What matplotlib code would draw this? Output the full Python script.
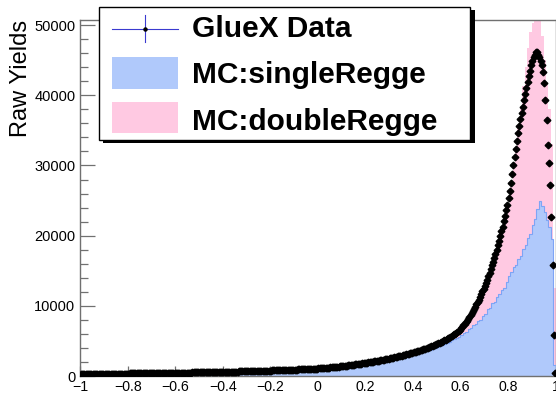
import numpy as np
import matplotlib
matplotlib.use("Agg")
import matplotlib.pyplot as plt
from matplotlib.patches import Rectangle
from matplotlib.lines import Line2D
from matplotlib.ticker import MultipleLocator

plt.rcParams['font.family'] = ['Liberation Sans', 'DejaVu Sans']

x_lo, x_hi = -1.0, 1.0

# ---- GlueX data: 400 bins of width 0.005 ----
gluex_data = [
    248, 250, 253, 255, 258, 261, 263, 265, 268, 270, 272, 275, 278, 280, 283, 286, 290, 292, 295, 298,
    302, 305, 308, 310, 313, 316, 318, 320, 323, 326, 329, 332, 334, 337, 340, 342, 345, 348, 350, 352,
    355, 358, 361, 363, 366, 368, 371, 373, 376, 378, 381, 384, 386, 389, 392, 394, 396, 399, 401, 404,
    407, 410, 412, 415, 418, 420, 422, 425, 428, 430, 433, 436, 438, 440, 443, 445, 448, 450, 452, 455,
    458, 460, 463, 466, 469, 472, 475, 478, 481, 484, 487, 490, 493, 497, 500, 503, 506, 510, 513, 516,
    519, 522, 526, 529, 532, 536, 539, 543, 546, 550, 553, 557, 561, 565, 568, 572, 576, 580, 584, 588,
    592, 596, 600, 604, 608, 612, 616, 620, 624, 628, 632, 636, 640, 645, 650, 654, 658, 663, 668, 672,
    676, 681, 686, 690, 695, 700, 705, 710, 715, 720, 725, 730, 735, 740, 745, 750, 755, 760, 766, 772,
    778, 784, 790, 796, 802, 808, 814, 820, 826, 833, 840, 846, 852, 859, 866, 872, 879, 886, 893, 900,
    907, 915, 922, 930, 938, 945, 952, 960, 968, 976, 984, 992, 1000, 1008, 1016, 1025, 1034, 1042, 1051, 1060,
    1070, 1080, 1095, 1110, 1125, 1140, 1155, 1170, 1185, 1200, 1218, 1235, 1252, 1270, 1288, 1305, 1322, 1340, 1360, 1380,
    1400, 1420, 1440, 1460, 1480, 1500, 1522, 1545, 1568, 1590, 1615, 1640, 1665, 1690, 1715, 1740, 1765, 1790, 1818, 1845,
    1872, 1900, 1928, 1955, 1985, 2015, 2045, 2075, 2108, 2140, 2172, 2205, 2238, 2270, 2305, 2340, 2375, 2410, 2445, 2480,
    2515, 2550, 2585, 2620, 2660, 2700, 2740, 2780, 2820, 2860, 2902, 2945, 2988, 3030, 3075, 3120, 3165, 3210, 3255, 3300,
    3350, 3400, 3450, 3500, 3555, 3610, 3665, 3720, 3780, 3840, 3900, 3960, 4025, 4090, 4155, 4220, 4290, 4360, 4430, 4500,
    4575, 4650, 4730, 4810, 4895, 4980, 5070, 5160, 5255, 5350, 5455, 5560, 5675, 5790, 5915, 6040, 6175, 6310, 6455, 6600,
    6820, 7050, 7250, 7450, 7670, 7900, 8150, 8400, 8670, 8950, 9250, 9550, 9870, 10200, 10550, 10900, 11270, 11650, 12050, 12450,
    12870, 13300, 13750, 14200, 14700, 15200, 15750, 16300, 16850, 17400, 18000, 18600, 19250, 19900, 20600, 21300, 22050, 22800, 23600, 24400,
    25300, 26300, 27500, 28800, 30000, 31200, 32400, 33500, 34600, 35600, 36600, 37500, 38400, 39300, 40200, 41000, 41900, 42700, 43500, 44300,
    44900, 45400, 45800, 46100, 46100, 45800, 45400, 44900, 44300, 43300, 41700, 39300, 36500, 32900, 30300, 27200, 22600, 15800, 5800, 400,
]

# ---- MC histograms: 200 bins of width 0.01 ----
single_regge = [
    230, 236, 240, 246, 250, 256, 260, 266, 272, 276,
    280, 286, 290, 295, 300, 305, 310, 315, 320, 324,
    330, 334, 338, 343, 348, 353, 358, 362, 367, 372,
    377, 382, 386, 391, 396, 401, 405, 409, 414, 419,
    423, 429, 434, 440, 445, 451, 457, 463, 469, 475,
    480, 487, 493, 500, 506, 512, 520, 526, 534, 541,
    548, 556, 563, 570, 578, 585, 593, 602, 610, 618,
    627, 635, 644, 653, 662, 672, 681, 690, 699, 710,
    721, 732, 743, 754, 766, 778, 790, 802, 815, 828,
    842, 856, 869, 883, 898, 913, 927, 943, 959, 975,
    994, 1020, 1049, 1076, 1104, 1136, 1168, 1201, 1233, 1270,
    1306, 1343, 1380, 1421, 1463, 1509, 1555, 1601, 1647, 1697,
    1748, 1799, 1854, 1909, 1969, 2029, 2088, 2153, 2217, 2282,
    2346, 2410, 2484, 2558, 2631, 2709, 2788, 2870, 2953, 3036,
    3110, 3190, 3280, 3370, 3450, 3540, 3640, 3730, 3840, 3940,
    4100, 4250, 4400, 4560, 4720, 4900, 5080, 5250, 5420, 5600,
    5800, 6100, 6250, 6650, 6850, 7200, 7400, 7850, 8050, 8550,
    8900, 9500, 9650, 10350, 10550, 11300, 11650, 12200, 12500, 13400,
    14300, 14800, 15600, 15800, 16700, 17100, 18100, 18600, 19700, 20300,
    21500, 22400, 23800, 25000, 24200, 23300, 22300, 21200, 19500, 1500,
]

double_regge = [
    255, 258, 265, 270, 276, 280, 286, 292, 298, 303,
    308, 313, 318, 323, 329, 334, 340, 345, 350, 355,
    360, 366, 371, 376, 381, 386, 392, 397, 402, 407,
    412, 418, 423, 428, 433, 438, 443, 448, 453, 458,
    463, 469, 475, 481, 487, 493, 500, 506, 513, 519,
    525, 532, 539, 546, 553, 560, 568, 575, 583, 591,
    599, 607, 615, 623, 631, 640, 649, 658, 667, 676,
    685, 694, 704, 714, 724, 734, 744, 755, 765, 777,
    789, 801, 813, 825, 838, 851, 864, 878, 892, 906,
    921, 936, 951, 967, 983, 999, 1016, 1033, 1050, 1068,
    1088, 1118, 1148, 1178, 1210, 1245, 1280, 1315, 1352, 1392,
    1432, 1472, 1513, 1558, 1604, 1654, 1705, 1755, 1806, 1862,
    1918, 1973, 2034, 2095, 2160, 2226, 2292, 2363, 2434, 2505,
    2576, 2647, 2728, 2810, 2891, 2977, 3063, 3155, 3246, 3338,
    3440, 3542, 3654, 3766, 3888, 4010, 4140, 4270, 4410, 4550,
    4700, 4880, 5080, 5280, 5500, 5750, 6020, 6320, 6640, 6950,
    7200, 7500, 7850, 8250, 8700, 9200, 9750, 10300, 10900, 11600,
    12400, 13200, 14100, 15000, 16000, 17100, 18300, 19600, 21000, 22500,
    24500, 27000, 29500, 32300, 35300, 38300, 41300, 44000, 46700, 49000,
    50300, 51500, 51500, 50900, 48500, 45000, 41500, 38000, 33000, 12500,
]

legend_labels = ["GlueX Data", "MC:singleRegge", "MC:doubleRegge"]
y_title = "Raw Yields"

# ---- figure ----
W, H = 556, 393
fig = plt.figure(figsize=(W / 100, H / 100), dpi=100)
fig.patch.set_facecolor('white')

ax_l, ax_r, ax_t, ax_b = 80.2, 555.5, 19.5, 376.0
ax = fig.add_axes([ax_l / W, 1 - ax_b / H, (ax_r - ax_l) / W, (ax_b - ax_t) / H])

mc_edges = np.linspace(x_lo, x_hi, len(single_regge) + 1)
d_edges = np.linspace(x_lo, x_hi, len(gluex_data) + 1)
d_centers = 0.5 * (d_edges[:-1] + d_edges[1:])

pink = '#ffc9e2'
blue = '#b0c9fb'
blue_edge = '#7ea4f5'

ax.stairs(double_regge, mc_edges, fill=True, color=pink, zorder=1)
ax.stairs(single_regge, mc_edges, fill=True, color=blue, zorder=2)
ax.stairs(single_regge, mc_edges, fill=False, color=blue_edge, lw=0.8, zorder=3)
ax.plot(d_centers, gluex_data, linestyle='none', marker='D', ms=3.4,
        color='black', zorder=4)

ax.set_xlim(x_lo, x_hi)
ax.set_ylim(0, 50800)

frame_col = '#707070'
for s in ax.spines.values():
    s.set_color(frame_col)
    s.set_linewidth(1.0)

ax.xaxis.set_major_locator(MultipleLocator(0.2))
ax.xaxis.set_minor_locator(MultipleLocator(0.04))
ax.yaxis.set_major_locator(MultipleLocator(10000))
ax.yaxis.set_minor_locator(MultipleLocator(2000))
ax.tick_params(axis='both', which='both', direction='in', color=frame_col,
               labelsize=10.5, width=0.9, top=False, right=False)
ax.tick_params(axis='y', which='major', length=10.8, pad=3.5)
ax.tick_params(axis='y', which='minor', length=5.4)
ax.tick_params(axis='x', which='major', length=7.2, pad=3.0, labelsize=10.2)
ax.tick_params(axis='x', which='minor', length=3.6)

def fmt_x(v, pos):
    if abs(v) < 1e-9:
        return "0"
    s = ("%.1f" % v).rstrip('0').rstrip('.')
    return s.replace('-', '\u2212')
ax.xaxis.set_major_formatter(plt.FuncFormatter(fmt_x))
ax.yaxis.set_major_formatter(plt.FuncFormatter(lambda v, p: "%d" % v))

# y title
fig.text(21.5 / W, 1 - 20 / H, y_title, rotation=90, ha='center', va='top',
         fontsize=17)

# ---- legend drawn in pixel coordinates ----
def fx(x):
    return x / W

def fy(y):
    return 1 - y / H

def rect(x0, y0, x1, y1, **kw):
    r = Rectangle((fx(x0), fy(y1)), fx(x1) - fx(x0), fy(y0) - fy(y1),
                  transform=fig.transFigure, **kw)
    fig.add_artist(r)

bx0, by0, bx1, by1 = 98.5, 6.5, 470.5, 139.5
rect(bx0 + 4, by0 + 4, bx1 + 4, by1 + 4, facecolor='black', edgecolor='black',
     lw=0, zorder=10)
rect(bx0, by0, bx1, by1, facecolor='white', edgecolor='black', lw=1.0,
     zorder=11)

# data entry
fig.add_artist(Line2D([fx(112), fx(178)], [fy(29), fy(29)], color='#3a3ad0',
                      lw=0.8, transform=fig.transFigure, zorder=12))
fig.add_artist(Line2D([fx(145), fx(145)], [fy(15), fy(42)], color='#3a3ad0',
                      lw=0.8, transform=fig.transFigure, zorder=12))
fig.add_artist(Line2D([fx(145)], [fy(29)], marker='o', ms=2.2, color='black',
                      transform=fig.transFigure, zorder=13))
rect(112, 57, 178, 89, facecolor=blue, edgecolor='none', zorder=12)
rect(112, 102, 178, 133, facecolor=pink, edgecolor='none', zorder=12)

for lab, base in zip(legend_labels, [37, 83, 130]):
    fig.text(fx(192), fy(base), lab, ha='left', va='baseline', fontsize=21.5,
             fontweight='bold', zorder=13)

fig.savefig("out.png", dpi=100, facecolor='white')
